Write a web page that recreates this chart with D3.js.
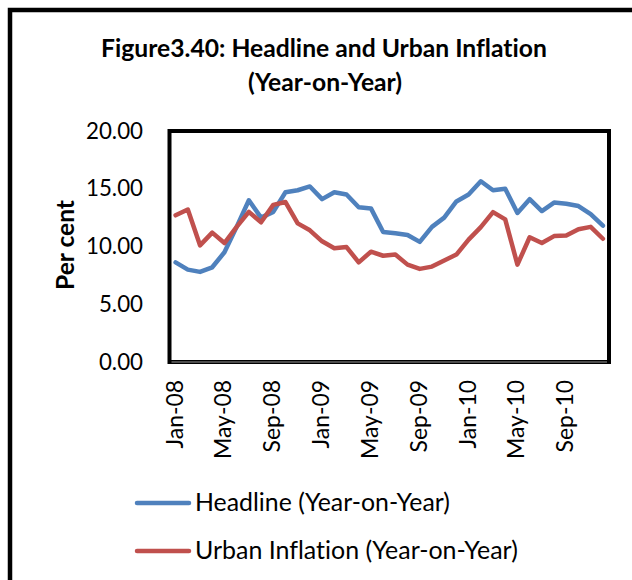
<!DOCTYPE html>
<html>
<head>
<meta charset="utf-8">
<script src="https://cdn.jsdelivr.net/npm/d3@7"></script>
<style>
  html, body { margin: 0; padding: 0; background: #fff; }
  svg { display: block; }
  text { font-family: Lato, "Open Sans", sans-serif; fill: #000; font-variant-ligatures: none; font-feature-settings: "liga" 0, "clig" 0; }
</style>
</head>
<body>
<svg id="chart" width="632" height="580"></svg>
<script>
// Monthly categories, Jan-08 .. Dec-10
const months = [
  "Jan-08","Feb-08","Mar-08","Apr-08","May-08","Jun-08","Jul-08","Aug-08","Sep-08","Oct-08","Nov-08","Dec-08",
  "Jan-09","Feb-09","Mar-09","Apr-09","May-09","Jun-09","Jul-09","Aug-09","Sep-09","Oct-09","Nov-09","Dec-09",
  "Jan-10","Feb-10","Mar-10","Apr-10","May-10","Jun-10","Jul-10","Aug-10","Sep-10","Oct-10","Nov-10","Dec-10"
];
// Year-on-year inflation, per cent
const headline = [
  8.63, 8.00, 7.80, 8.20, 9.50, 11.70, 14.00, 12.50, 13.00, 14.70, 14.87, 15.20,
  14.10, 14.70, 14.50, 13.40, 13.30, 11.25, 11.15, 11.00, 10.40, 11.70, 12.50, 13.90,
  14.50, 15.65, 14.87, 15.00, 12.90, 14.10, 13.07, 13.80, 13.70, 13.50, 12.80, 11.80
];
const urban = [
  12.70, 13.20, 10.10, 11.20, 10.30, 11.70, 13.00, 12.10, 13.60, 13.85, 12.00, 11.40,
  10.45, 9.85, 9.95, 8.63, 9.55, 9.20, 9.30, 8.43, 8.06, 8.26, 8.78, 9.30,
  10.60, 11.68, 12.98, 12.35, 8.43, 10.80, 10.30, 10.90, 10.96, 11.50, 11.70, 10.67
];
const yTicks = [0, 5, 10, 15, 20];
const xTickLabels = ["Jan-08","May-08","Sep-08","Jan-09","May-09","Sep-09","Jan-10","May-10","Sep-10"];
const seriesNames = ["Headline (Year-on-Year)", "Urban Inflation (Year-on-Year)"];
const seriesColors = ["#4F81BD", "#C0504D"];

const svg = d3.select("#chart");
const plot = { left: 169.5, right: 609, top: 131, bottom: 362 };

// Scale a text's font-size so it spans the given width
function fit(sel, width) {
  const node = sel.node();
  const base = parseFloat(sel.attr("font-size"));
  const w = node.getComputedTextLength();
  sel.attr("font-size", (base * width / w).toFixed(2));
  return sel;
}

// Outer chart frame
svg.append("rect")
  .attr("x", 10).attr("y", 10).attr("width", 660).attr("height", 620)
  .attr("fill", "#fff").attr("stroke", "#000").attr("stroke-width", 4.5);

// Title
const t1 = svg.append("text").attr("x", 324).attr("y", 57)
  .attr("text-anchor", "middle").attr("font-weight", "bold").attr("font-size", 22)
  .text("Figure3.40: Headline and Urban Inflation");
fit(t1, 446);
svg.append("text").attr("x", 325).attr("y", 91)
  .attr("text-anchor", "middle").attr("font-weight", "bold").attr("font-size", t1.attr("font-size"))
  .text("(Year-on-Year)");

const x = d3.scaleBand().domain(months).range([plot.left, plot.right]).padding(0);
const y = d3.scaleLinear().domain([0, 20]).range([plot.bottom, plot.top]);
const cx = m => x(m) + x.bandwidth() / 2;

// Y axis labels
const yAxis = svg.append("g").attr("transform", `translate(143,0)`)
  .call(d3.axisLeft(y).tickValues(yTicks).tickFormat(d3.format(".2f")).tickSize(0).tickPadding(0));
yAxis.select(".domain").remove();
yAxis.selectAll("text").attr("font-family", "Lato, sans-serif").attr("font-size", 22).attr("fill", "#000");
const yt = yAxis.select(".tick:last-of-type text");
fit(yt, 57);
yAxis.selectAll("text").attr("font-size", yt.attr("font-size"));

// Y axis title
const yl = svg.append("text")
  .attr("transform", "translate(74,245) rotate(-90)")
  .attr("text-anchor", "middle").attr("font-weight", "bold").attr("font-size", 22)
  .text("Per cent");
fit(yl, 90);

// X axis labels (every fourth month)
const xAxis = svg.append("g").attr("transform", `translate(0,${plot.bottom})`)
  .call(d3.axisBottom(x).tickValues(xTickLabels).tickSize(0).tickPadding(0));
xAxis.select(".domain").remove();
xAxis.selectAll("text")
  .attr("font-family", "Lato, sans-serif").attr("font-size", 22).attr("fill", "#000")
  .attr("text-anchor", "end").attr("dy", null)
  .attr("transform", "translate(7,18) rotate(-90)").attr("x", 0).attr("y", 0);
const xt = xAxis.selectAll(".tick text").filter((d, i) => i === 1);
fit(xt, 79);
xAxis.selectAll("text").attr("font-size", xt.attr("font-size"));

// Series lines
const line = d3.line().x((d, i) => cx(months[i])).y(d => y(d));
[headline, urban].forEach((s, k) => {
  svg.append("path").datum(s)
    .attr("d", line).attr("fill", "none")
    .attr("stroke", seriesColors[k]).attr("stroke-width", 4.5)
    .attr("stroke-linejoin", "round").attr("stroke-linecap", "round");
});

// Plot area frame
svg.append("rect")
  .attr("x", plot.left).attr("y", plot.top)
  .attr("width", plot.right - plot.left).attr("height", plot.bottom - plot.top)
  .attr("fill", "none").attr("stroke", "#000").attr("stroke-width", 4);
svg.append("line")
  .attr("x1", plot.left + 2).attr("x2", plot.right - 2)
  .attr("y1", plot.bottom).attr("y2", plot.bottom)
  .attr("stroke", "#9a9a9a").attr("stroke-width", 1);

// Legend
const legY = [503, 551];
const legWidths = [255, 323];
seriesNames.forEach((name, k) => {
  svg.append("line")
    .attr("x1", 137).attr("x2", 189).attr("y1", legY[k]).attr("y2", legY[k])
    .attr("stroke", seriesColors[k]).attr("stroke-width", 4.5).attr("stroke-linecap", "round");
  const lt = svg.append("text").attr("x", 195).attr("y", legY[k] + 8)
    .attr("font-size", 22).text(name);
  fit(lt, legWidths[k]);
});
</script>
</body>
</html>
